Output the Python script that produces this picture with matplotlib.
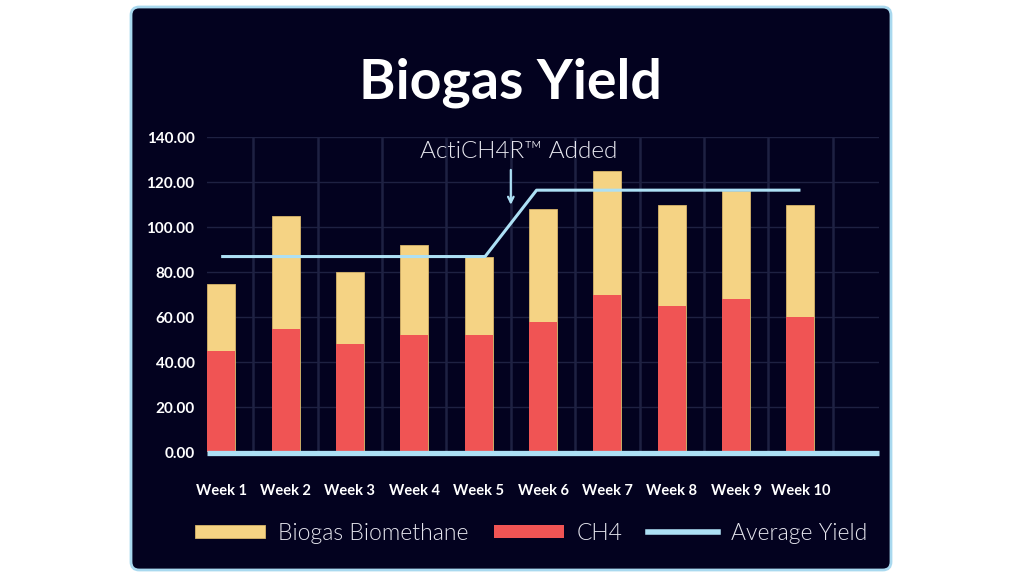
import matplotlib
matplotlib.use("Agg")
import matplotlib.pyplot as plt
from matplotlib.patches import FancyBboxPatch, Patch
from matplotlib.lines import Line2D
import numpy as np

weeks = ["Week 1", "Week 2", "Week 3", "Week 4", "Week 5",
         "Week 6", "Week 7", "Week 8", "Week 9", "Week 10"]
total_yield = [75, 105, 80, 92, 87, 108, 125, 110, 116, 110]
ch4 = [45, 55, 48, 52, 52, 58, 70, 65, 68, 60]
# average yield line before / after the additive (x in week index)
avg_x = [0, 4.1, 4.9, 9]
avg_y = [87, 87, 116.5, 116.5]

bg = "#03021f"
yellow = "#f5d384"
red = "#f05454"
light_blue = "#ade0f5"
grid_c = "#1e2142"

plt.rcParams["font.family"] = ["Lato", "DejaVu Sans"]

fig = plt.figure(figsize=(10.24, 5.76), dpi=100)
fig.patch.set_facecolor("white")

card = FancyBboxPatch((131 / 1024, 6 / 576), 760 / 1024, 563 / 576,
                      boxstyle="round,pad=0,rounding_size=0.008",
                      mutation_aspect=1024 / 576,
                      transform=fig.transFigure, fc=bg, ec="#a9d9ef", lw=2,
                      zorder=-10)
fig.patches.append(card)

ax = fig.add_axes([207 / 1024, 1 - 452.3 / 576, 672 / 1024, 315 / 576])
ax.set_facecolor(bg)

x = np.arange(len(weeks))
ax.bar(x, total_yield, width=0.435, color=yellow, edgecolor="#d8b56a", lw=0.6, zorder=3)
ax.bar(x, ch4, width=0.435, color=red, lw=0, zorder=4)
ax.plot(avg_x, avg_y, color=light_blue, lw=2.2, zorder=5, solid_capstyle="butt")
ax.axhline(-0.5, color=light_blue, lw=3.8, zorder=6, clip_on=False,
           solid_capstyle="butt")

ax.set_xlim(-0.22, 10.22)
ax.set_ylim(0, 140)
ax.set_yticks(np.arange(0, 141, 20))
ax.set_yticklabels([f"{v:.2f}" for v in np.arange(0, 141, 20)])
ax.set_xticks(x)
ax.set_xticklabels(weeks)
ax.set_xticks(x + 0.5, minor=True)
ax.grid(axis="y", color=grid_c, lw=1, zorder=0)
ax.grid(axis="x", which="minor", color=grid_c, lw=1.8, zorder=0)
ax.grid(axis="x", which="major", visible=False)
for s in ax.spines.values():
    s.set_visible(False)
ax.tick_params(axis="both", which="both", length=0)
ax.tick_params(axis="y", pad=9, labelsize=11, labelcolor="white")
ax.tick_params(axis="x", pad=23, labelsize=10.5, labelcolor="white")
for lab in ax.get_xticklabels() + ax.get_yticklabels():
    lab.set_fontweight("bold")

ax.text(4.62, 133.5, "ActiCH4R™ Added", ha="center", va="center",
        fontsize=17.5, fontweight=300, color="#e8e8f0")
ax.annotate("", xy=(4.5, 110), xytext=(4.5, 125.5),
            arrowprops=dict(arrowstyle="->", color=light_blue, lw=1.6,
                            shrinkA=0, shrinkB=0))

fig.text(0.498, 1 - 98 / 576, "Biogas Yield", ha="center", va="baseline",
         fontsize=40, fontweight="bold", color="white")

handles = [Patch(fc=yellow, ec="#d8b56a", lw=0.6),
           Patch(fc=red, lw=0),
           Line2D([], [], color=light_blue, lw=4)]
labels = ["Biogas Biomethane", "CH4", "Average Yield"]
fig.legend(handles, labels, loc="center", bbox_to_anchor=(531 / 1024, 1 - 533 / 576),
           ncol=3, frameon=False, handlelength=3.05, handleheight=0.48,
           handletextpad=0.57, columnspacing=1.1, labelcolor="#e6e6ee",
           prop={"family": "Lato", "weight": 300, "size": 16.5})

fig.savefig("out.png", dpi=100, facecolor=fig.get_facecolor())
